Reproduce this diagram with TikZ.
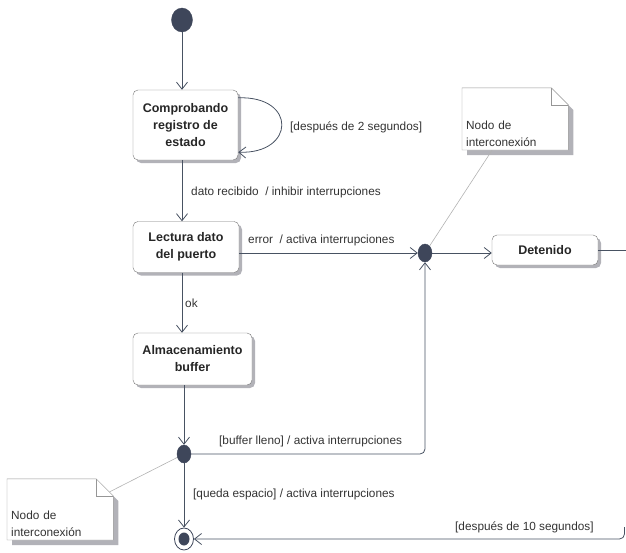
\documentclass[tikz,border=0pt]{standalone}
\usepackage{fontspec}
\setmainfont{Liberation Sans}
\usepackage{xcolor}
\usepackage{tikz}
\usetikzlibrary{arrows.meta,shapes.geometric,positioning,
                backgrounds,calc,shadows}
\definecolor{linecolor}{RGB}{72,82,98}
\definecolor{dotcolor}{RGB}{62,70,90}
\definecolor{boxline}{RGB}{120,120,120}
\definecolor{shadowcolor}{RGB}{178,178,184}
\definecolor{notecolor}{RGB}{150,150,150}

\begin{document}
\begin{tikzpicture}[x=1pt,y=-1pt,
  statebox/.style={rectangle,rounded corners=5pt,draw=boxline,fill=white,align=center,
    font=\fontsize{12.5}{17}\selectfont\bfseries,text=black!85,
    drop shadow={shadow xshift=3pt,shadow yshift=-3pt,fill=shadowcolor,opacity=1}},
  junction/.style={ellipse,draw=dotcolor,fill=dotcolor,inner sep=0pt,minimum width=14pt,minimum height=18pt},
  finalstate/.style={ellipse,draw=dotcolor,fill=white,line width=0.8pt,inner sep=0pt,
    minimum width=19pt,minimum height=22pt,
    path picture={\fill[dotcolor] (path picture bounding box.center) ellipse (5.5pt and 6.5pt);}},
  trans/.style={draw=linecolor,line width=0.8pt,-{Straight Barb[length=7pt,width=11pt]}},
  lbl/.style={anchor=west,inner sep=0pt,font=\fontsize{11.8}{14}\selectfont,text=black!80},
  notebox/.style={anchor=south west,inner xsep=4pt,inner ysep=3pt,text width=98pt,align=left,
    font=\fontsize{11.8}{17}\selectfont,text=black!80},
  notelink/.style={draw=gray!60,line width=0.6pt}]
\useasboundingbox (0,0) rectangle (626,552);
% states
\node[junction,minimum width=21pt,minimum height=24pt] (init) at (182,20) {};
\node[statebox,minimum width=105pt,minimum height=70pt] (comp) at (185.5,125) {Comprobando\\registro de\\estado};
\node[statebox,minimum width=106pt,minimum height=51pt] (lect) at (186,247) {Lectura dato\\del puerto};
\node[statebox,minimum width=119pt,minimum height=52pt] (almac) at (192.5,359) {Almacenamiento\\buffer};
\node[junction] (j1) at (425,253) {};
\node[statebox,minimum width=106pt,minimum height=30pt] (dete) at (545,250) {Detenido};
\node[junction] (j2) at (184,454) {};
\node[finalstate] (fin) at (184,539) {};
\coordinate (eR) at (626,250);
\coordinate (fR) at (624.5,527);
% notes
\node[notebox] (n1) at (462,150) {Nodo de\\interconexión};
\node[notebox] (n2) at (7,540) {Nodo de\\interconexión};
\begin{scope}[on background layer]
  \foreach \n/\r in {n1/30,n2/29}{
    \coordinate (\n-tl) at ([yshift=\r pt]\n.north west);
    \coordinate (\n-tr) at ([yshift=\r pt]\n.north east);
    \fill[shadowcolor] ([shift={(5pt,-5pt)}]\n-tl) -- ([shift={(-12pt,-5pt)}]\n-tr)
      -- ([shift={(5pt,-22pt)}]\n-tr) -- ([shift={(5pt,-5pt)}]\n.south east)
      -- ([shift={(5pt,-5pt)}]\n.south west) -- cycle;
    \draw[notecolor,fill=white] (\n-tl) -- ([xshift=-17pt]\n-tr) -- ([yshift=-17pt]\n-tr)
      -- (\n.south east) -- (\n.south west) -- cycle;
    \draw[notecolor] ([xshift=-17pt]\n-tr) |- ([yshift=-17pt]\n-tr);}
  \draw[notelink] ([xshift=-23pt]n1.south) -- (j1.center);
  \draw[notelink] ([xshift=-4pt,yshift=16pt]n2.north east) -- (j2.center);
\end{scope}
% transitions
\draw[trans] (init) -- (init |- comp.north);
\draw[trans] ([yshift=-8pt]comp.north east) .. controls +(59,-2) and +(57,2) .. ([yshift=8pt]comp.south east);
\draw[trans] (comp.south -| init) -- (lect.north -| init);
\draw[trans] (lect.east |- j1) -- (j1);
\draw[trans] (j1) -- (j1 -| dete.west);
\draw[linecolor,line width=0.8pt] (dete.east) -- (eR);
\draw[trans] (lect.south -| init) -- (almac.north -| init);
\draw[trans] (almac.south -| j2) -- (j2);
\draw[trans,rounded corners=5pt] (j2) -| (j1);
\draw[trans] (j2) -- (fin);
\draw[trans,rounded corners=5pt] (fR) |- (fin);
% labels
\node[lbl] (l-loop) at (290,127) {[después de 2 segundos]};
\node[lbl] (l-dato) at (191,192) {dato recibido~ / inhibir interrupciones};
\node[lbl] (l-error) at (248,240) {error~ / activa interrupciones};
\node[lbl] (l-ok) at (185,303) {ok};
\node[lbl] (l-lleno) at (219,441) {[buffer lleno] / activa interrupciones};
\node[lbl] (l-queda) at (193,494) {[queda espacio] / activa interrupciones};
\node[lbl] (l-diez) at (455,527) {[después de 10 segundos]};
\end{tikzpicture}
\end{document}
